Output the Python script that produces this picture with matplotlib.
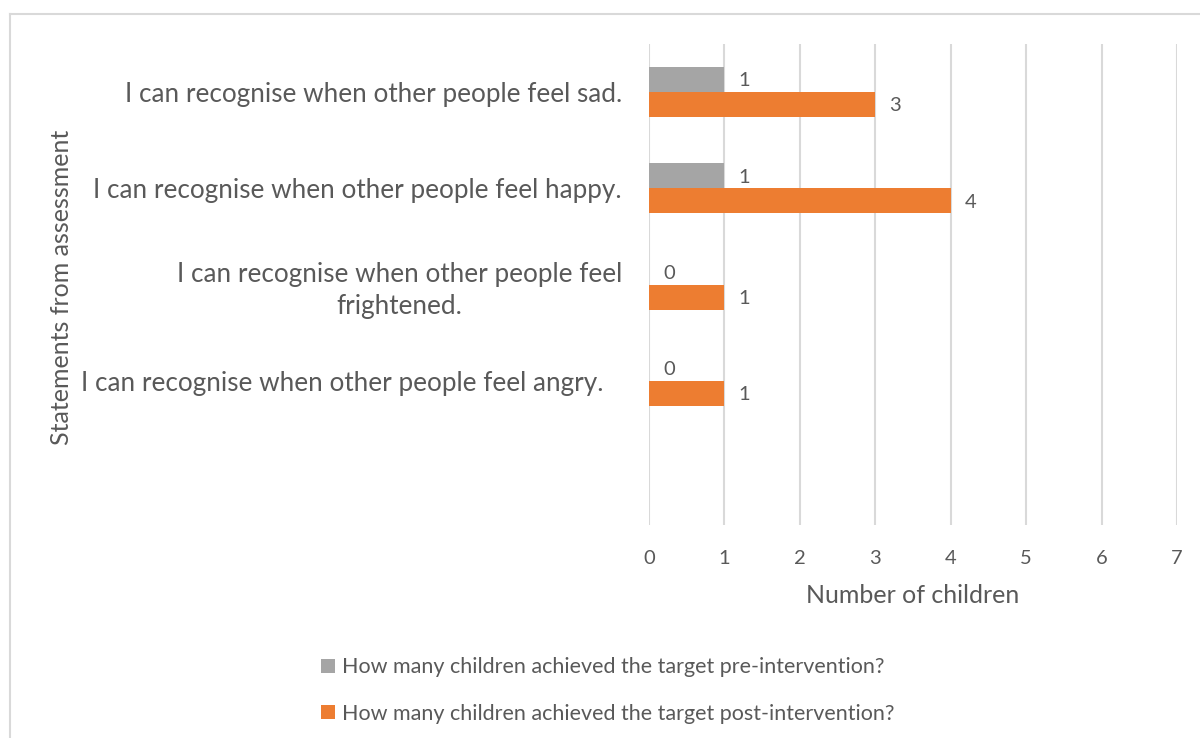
import matplotlib
matplotlib.use("Agg")
import matplotlib.pyplot as plt
from matplotlib.patches import Patch
from matplotlib.transforms import ScaledTranslation
import numpy as np

# Statements, listed top to bottom; the last band is left blank
statements = [
    "I can recognise when other people feel sad.",
    "I can recognise when other people feel happy.",
    "I can recognise when other people feel\nfrightened.",
    "I can recognise when other people feel angry.",
    "",
]
pre_values = [1, 1, 0, 0, None]
post_values = [3, 4, 1, 1, None]
series_names = [
    "How many children achieved the target pre-intervention?",
    "How many children achieved the target post-intervention?",
]
x_ticks = [0, 1, 2, 3, 4, 5, 6, 7]

GREY = "#A5A5A5"
ORANGE = "#ED7D31"
TEXT = "#595959"
GRID = "#D9D9D9"

plt.rcParams["font.family"] = ["Lato", "DejaVu Sans"]

fig = plt.figure(figsize=(12, 7.38), dpi=100)
ax = fig.add_axes([649 / 1200, 1 - 525 / 738, 528 / 1200, 481 / 738])

pos = np.arange(len(statements))
bar_h = 0.26
pre_plot = [v if v is not None else 0 for v in pre_values]
post_plot = [v if v is not None else 0 for v in post_values]
has = [v is not None for v in pre_values]

pre_bars = ax.barh(pos[has] - bar_h / 2, np.array(pre_plot)[has], height=bar_h,
                   color=GREY, zorder=3)
post_bars = ax.barh(pos[has] + bar_h / 2, np.array(post_plot)[has], height=bar_h,
                    color=ORANGE, zorder=3)

for bars, vals in ((pre_bars, np.array(pre_plot)[has]), (post_bars, np.array(post_plot)[has])):
    for b, v in zip(bars, vals):
        ax.annotate(f"{v:g}", (b.get_width(), b.get_y() + b.get_height() / 2),
                    xytext=(10, -1), textcoords="offset points",
                    ha="left", va="center", fontsize=14.5, color=TEXT)

ax.set_xlim(0, 7)
ax.set_ylim(len(statements) - 0.5, -0.5)
ax.set_xticks(x_ticks)
ax.set_xticklabels([str(t) for t in x_ticks])
ax.xaxis.grid(True, color=GRID, linewidth=1.5, zorder=0)
ax.set_axisbelow(True)
for s in ax.spines.values():
    s.set_visible(False)
ax.tick_params(axis="both", length=0, colors=TEXT)
ax.tick_params(axis="x", labelsize=14.5, pad=18)
ax.tick_params(axis="y", labelsize=18.8, pad=19.5)
ax.set_yticks(pos)
ax.set_yticklabels(statements, multialignment="center", linespacing=1.33)
ylabels = ax.get_yticklabels()
ylabels[3].set_transform(ylabels[3].get_transform() +
                         ScaledTranslation(-18 / 100, 0, fig.dpi_scale_trans))

ax.set_xlabel("Number of children", fontsize=18, color=TEXT, labelpad=12)
fig.text(62 / 1200, 1 - 287 / 738, "Statements from assessment", rotation=90,
         ha="center", va="center", fontsize=18, color=TEXT)

handles = [Patch(facecolor=GREY), Patch(facecolor=ORANGE)]
fig.legend(handles, series_names, loc="upper left",
           bbox_to_anchor=(302 / 1200, 1 - 638 / 738), frameon=False,
           fontsize=15.5, labelcolor=TEXT, handlelength=0.65, handleheight=0.65,
           handletextpad=0.3, labelspacing=1.22)

# Chart-area border along the top and left edges
fig.add_artist(plt.Line2D([10 / 1200, 1], [1 - 14 / 738, 1 - 14 / 738],
                          transform=fig.transFigure, color=GRID, linewidth=1.5))
fig.add_artist(plt.Line2D([10 / 1200, 10 / 1200], [0, 1 - 14 / 738],
                          transform=fig.transFigure, color=GRID, linewidth=1.5))

fig.savefig("out.png", dpi=100, facecolor="white")
